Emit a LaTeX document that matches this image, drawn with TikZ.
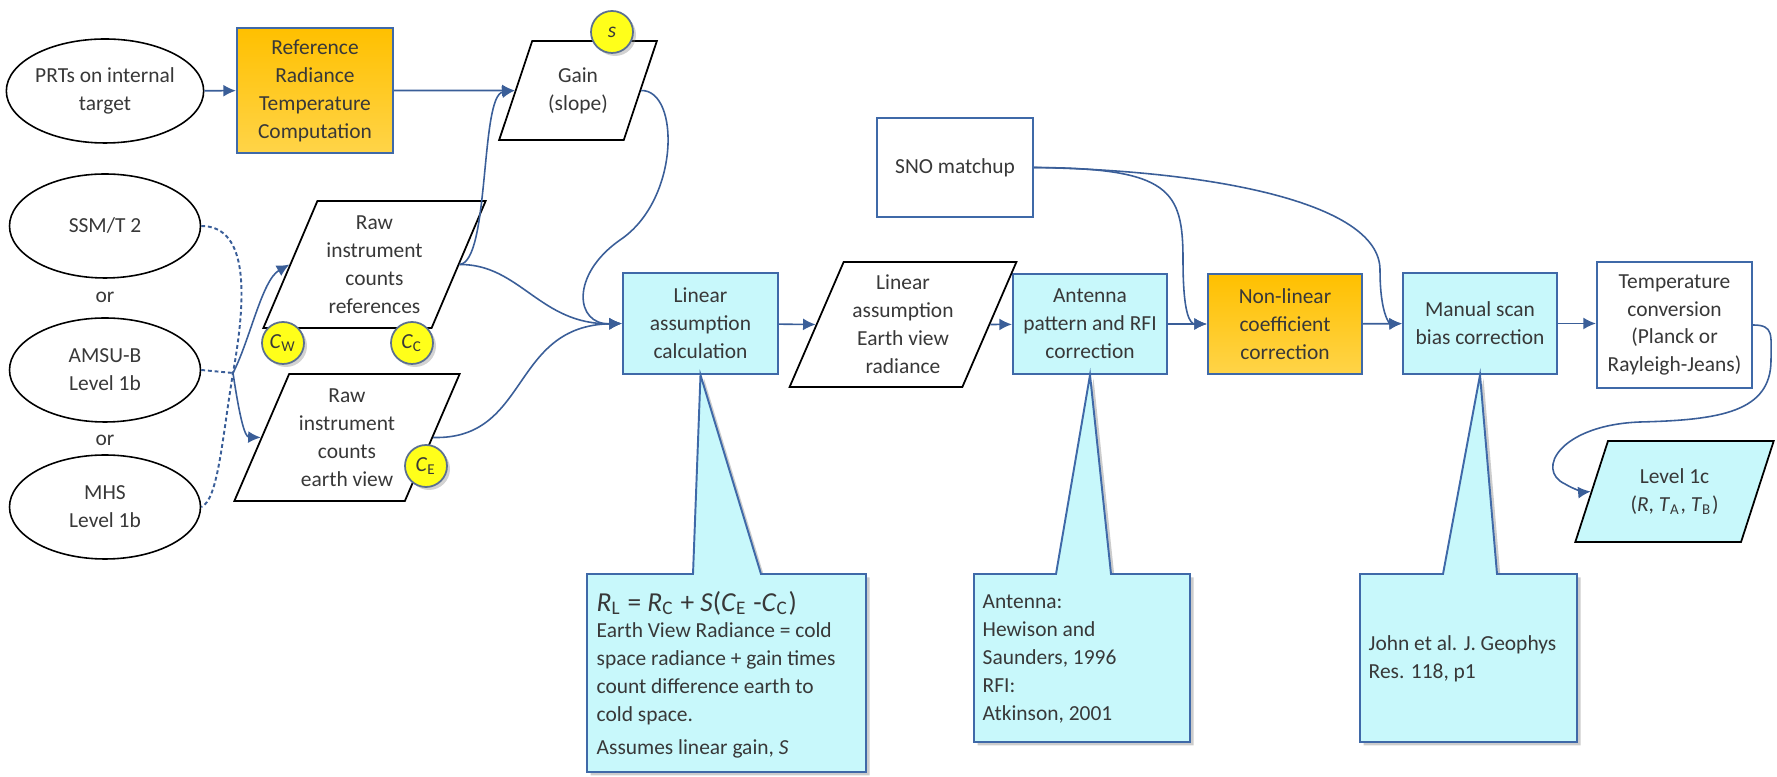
\documentclass[tikz,border=0pt]{standalone}
\usepackage{fontspec}
\setmainfont{Carlito}
\usetikzlibrary{shapes.geometric,arrows.meta,shadows}

\definecolor{linkblue}{HTML}{3A5E98}
\definecolor{boxedge}{HTML}{3F69A8}
\definecolor{cyanfill}{HTML}{C8F8FB}
\definecolor{orangetop}{HTML}{FFC000}
\definecolor{orangebot}{HTML}{FFD448}
\definecolor{dotyellow}{HTML}{FFFF1A}
\definecolor{dotedge}{HTML}{5B7090}
\definecolor{inktext}{HTML}{383838}

\tikzset{
  proc/.style={draw=boxedge,line width=.6pt,minimum width=15.5mm,minimum height=10mm,inner sep=0pt,align=center},
  cyanbox/.style={proc,fill=cyanfill},
  orangebox/.style={proc,top color=orangetop,bottom color=orangebot},
  databox/.style={trapezium,trapezium left angle=65,trapezium right angle=115,trapezium stretches=true,
    draw=black,line width=.5pt,fill=white,inner sep=0pt,align=center},
  source/.style={ellipse,draw=black,line width=.45pt,minimum width=19.1mm,minimum height=10.4mm,inner sep=0pt,align=center},
  coef/.style={circle,draw=dotedge,line width=.5pt,fill=dotyellow,minimum size=4.2mm,inner sep=0pt,
    drop shadow={opacity=.35,shadow xshift=.3mm,shadow yshift=-.3mm}},
  conn/.style={linkblue,line width=.45pt,-{Latex[length=3.6pt,width=3.4pt]}},
  altline/.style={linkblue,line width=.55pt,dash pattern=on 1.1pt off .8pt},
  callout/.style={draw=boxedge,line width=.55pt,fill=cyanfill,
    drop shadow={opacity=.4,shadow xshift=.35mm,shadow yshift=-.35mm}},
  note/.style={anchor=north west,align=left,inner sep=0pt},
}

\begin{document}
\begin{tikzpicture}[x=0.1mm,y=-0.1mm,font=\fontsize{6.1}{7.95}\selectfont,text=inktext]
  \useasboundingbox (0,0) rectangle (1777,777);

  % sources
  \node[source] (prt) at (105,91) {PRTs on internal\\target};
  \node[source] (ssm) at (105,226) {SSM/T 2};
  \node (or1) at (105,297) {or};
  \node[source] (amsu) at (105,370) {AMSU-B\\Level 1b};
  \node (or2) at (105,440) {or};
  \node[source] (mhs) at (105,507) {MHS\\Level 1b};

  % processing boxes
  \node[orangebox,minimum width=15.6mm,minimum height=12.5mm] (ref) at (315,90.5) {Reference\\Radiance\\Temperature\\Computation};
  \node[proc,fill=white,minimum width=15.6mm,minimum height=9.9mm] (sno) at (955,167.5) {SNO matchup};
  \node[cyanbox,minimum height=10.1mm] (calc) at (700.5,323.5) {Linear\\assumption\\calculation};
  \node[cyanbox,minimum width=15.4mm] (ant) at (1090,324) {Antenna\\pattern and RFI\\correction};
  \node[orangebox,minimum width=15.4mm] (nlc) at (1285,324) {Non-linear\\coefficient\\correction};
  \node[cyanbox,minimum width=15.4mm,minimum height=10.1mm] (msb) at (1480,323.5) {Manual scan\\bias correction};
  \node[proc,fill=white,minimum height=12.6mm] (temp) at (1674.5,325) {Temperature\\conversion\\(Planck or\\Rayleigh-Jeans)};

  % data
  \node[databox,minimum width=15.8mm,minimum height=9.9mm] (gain) at (578,90.5) {Gain\\(slope)};
  \node[databox,minimum width=22.3mm,minimum height=12.7mm] (rawref) at (374.5,264.5) {Raw\\instrument\\counts\\references};
  \node[databox,minimum width=22.6mm,minimum height=12.7mm] (earth) at (347,437.5) {Raw\\instrument\\counts\\earth view};
  \node[databox,minimum width=22.8mm,minimum height=12.5mm] (la) at (903,324.5) {Linear\\assumption\\Earth view\\radiance};
  \node[databox,fill=cyanfill,minimum width=19.9mm,minimum height=10.1mm] (lvl) at (1674.5,491.5) {Level 1c\\(\textit{R}, \textit{T}\textsubscript{A}, \textit{T}\textsubscript{B})};

  % coefficients
  \node[coef] (cs) at (612,32) {\textit{s}};
  \node[coef] (cw) at (283,343) {\textit{C}\textsubscript{W}};
  \node[coef] (cc) at (412,343) {\textit{C}\textsubscript{C}};
  \node[coef] (ce) at (426,466) {\textit{C}\textsubscript{E}};

  % inputs
  \coordinate (fork) at (233,373);
  \draw[altline] (ssm.east) .. controls (250,226) and (246,300) .. (fork) .. controls (222,440) and (218,500) .. (mhs.east);
  \draw[altline] (amsu.east) -- (fork);
  \draw[conn] (fork) .. controls (250,340) and (262,280) .. (rawref.180);
  \draw[conn] (fork) .. controls (240,420) and (245,437) .. (earth.180);

  \draw[conn] (prt) -- (ref);
  \draw[conn] (ref.east) -- (gain.180);
  \draw[conn] (rawref.0) .. controls (490,262) and (480,95) .. (gain.180);
  \draw[conn] (rawref.0) .. controls (520,264) and (540,325) .. (calc.west);
  \draw[conn] (earth.0) .. controls (530,440) and (510,326) .. (calc.west);
  \draw[conn] (gain.0) .. controls (680,90) and (680,200) .. (620,240) .. controls (570,275) and (575,325) .. (calc.west);

  % main chain
  \draw[conn] (calc) -- (la.180);
  \draw[conn] (la.0) -- (ant);
  \draw[conn] (ant) -- (nlc);
  \draw[conn] (nlc) -- (msb);
  \draw[conn] (msb) -- (temp.west |- msb);
  \draw[conn] (sno.east) .. controls (1170,168) and (1183,190) .. (1183,260) .. controls (1183,315) and (1190,324) .. (nlc.west);
  \draw[conn] (sno.east) .. controls (1200,170) and (1380,200) .. (1380,270) .. controls (1380,315) and (1390,324) .. (msb.west);
  \draw[conn] (temp.east) .. controls (1774,325) and (1771,335) .. (1771,360)
    .. controls (1771,412) and (1720,420) .. (1640,422)
    .. controls (1560,425) and (1535,470) .. (1565,484) .. controls (1575,490) and (1585,492) .. (lvl.180);

  % callouts
  \draw[callout] (587,574) -- (693,574) -- (calc.south) -- (761,574) -- (866,574) -- (866,772) -- (587,772) -- cycle;
  \draw[callout] (974,574) -- (1056,574) -- (ant.south) -- (1111,574) -- (1190,574) -- (1190,742) -- (974,742) -- cycle;
  \draw[callout] (1360,574) -- (1443,574) -- (msb.south) -- (1497,574) -- (1577,574) -- (1577,742) -- (1360,742) -- cycle;

  \node[anchor=west,inner sep=0pt] (formula) at (596,603) {\fontsize{7.8}{9}\selectfont\textit{R}\textsubscript{L} = \textit{R}\textsubscript{C} + \textit{S}(\textit{C}\textsubscript{E} -\textit{C}\textsubscript{C})};
  \node[note] (calcnote) at (596,622) {Earth View Radiance = cold\\space radiance + gain times\\count difference earth to\\cold space.\\[.5mm]Assumes linear gain, \textit{S}};
  \node[note] (antnote) at (982,594) {Antenna:\\Hewison and\\Saunders, 1996\\RFI:\\Atkinson, 2001};
  \node[note] (msbnote) at (1368,635) {John et al. J. Geophys\\Res. 118, p1};
\end{tikzpicture}
\end{document}
